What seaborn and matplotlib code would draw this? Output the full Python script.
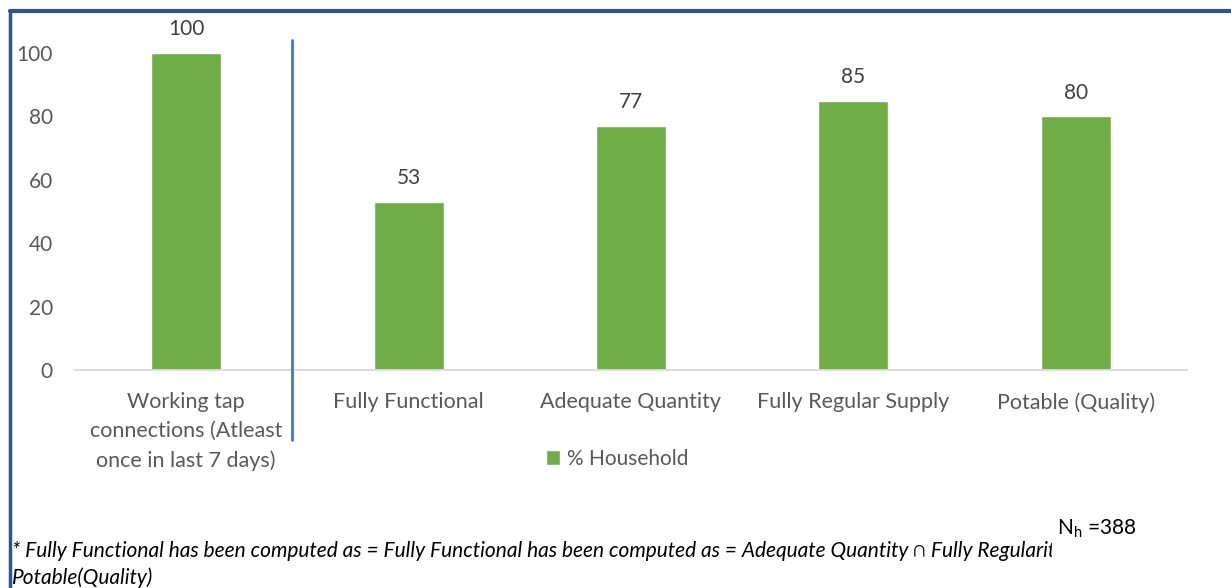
import matplotlib
import matplotlib.pyplot as plt
import seaborn as sns
from matplotlib.lines import Line2D
from matplotlib.patches import Rectangle

matplotlib.use("agg")

categories = [
    "Working tap\nconnections (Atleast\nonce in last 7 days)",
    "Fully Functional",
    "Adequate Quantity",
    "Fully Regular Supply",
    "Potable (Quality)",
]
values = [100, 53, 77, 85, 80]
series_name = "% Household"
yticks = [0, 20, 40, 60, 80, 100]
footnote = ("* Fully Functional has been computed as = Fully Functional has been "
            "computed as = Adequate Quantity \u2229 Fully Regularity \u2229\n"
            "Potable(Quality)")
sample = "N$_\\mathregular{h}$ =388"

GREEN = "#70AD47"
GREY = "#595959"
BORDER = "#2F5597"

sns.set_theme(style="white")
plt.rcParams["font.family"] = ["Lato", "DejaVu Sans"]

fig = plt.figure(figsize=(12.31, 5.88), dpi=100)
W, H = 1231, 588
ax = fig.add_axes([75 / W, 1 - 370 / H, (1187 - 75) / W, 330 / H])

sns.barplot(x=categories, y=values, color=GREEN, width=0.315, saturation=1,
            label=series_name, ax=ax)

ax.set_xlim(-0.5, 4.5)
ax.set_ylim(0, 104.1)
ax.set_yticks(yticks)
for s in ["top", "right", "left"]:
    ax.spines[s].set_visible(False)
ax.spines["bottom"].set_color("#D9D9D9")
ax.spines["bottom"].set_linewidth(1.3)
ax.tick_params(axis="y", length=0, pad=16, labelsize=15, labelcolor=GREY)
ax.tick_params(axis="x", length=0, pad=16, labelsize=15.5, labelcolor=GREY)
for t in ax.get_xticklabels():
    t.set_linespacing(1.55)
ax.set_xlabel("")
ax.set_ylabel("")

ax.bar_label(ax.containers[0], padding=10, fontsize=15, color="#404040")

ax.legend(loc="center", bbox_to_anchor=(617 / W, 1 - 459 / H),
          bbox_transform=fig.transFigure, frameon=False, fontsize=15,
          handlelength=0.7, handleheight=0.7, handletextpad=0.3,
          labelcolor=GREY)

# separator between first bar and the rest
fig.add_artist(Line2D([292 / W, 292 / W], [1 - 40 / H, 1 - 440 / H],
                      color="#4472C4", lw=2))

# outer frame of the report box
fig.add_artist(Line2D([10 / W, 1], [1 - 11 / H, 1 - 11 / H], color=BORDER, lw=3))
fig.add_artist(Line2D([10 / W, 10 / W], [1 - 11 / H, 0], color=BORDER, lw=2.5))

fig.text(12 / W, 1 - 541 / H, footnote, fontsize=15, style="italic",
         color="black", va="top", linespacing=1.4)
fig.add_artist(Rectangle((1052 / W, 1 - 566 / H), 179 / W, 60 / H,
                         transform=fig.transFigure, color="white", zorder=5))
fig.text(1057 / W, 1 - 529 / H, sample, fontsize=15, color="black",
         va="center", zorder=6)

fig.savefig("out.png", dpi=100)
